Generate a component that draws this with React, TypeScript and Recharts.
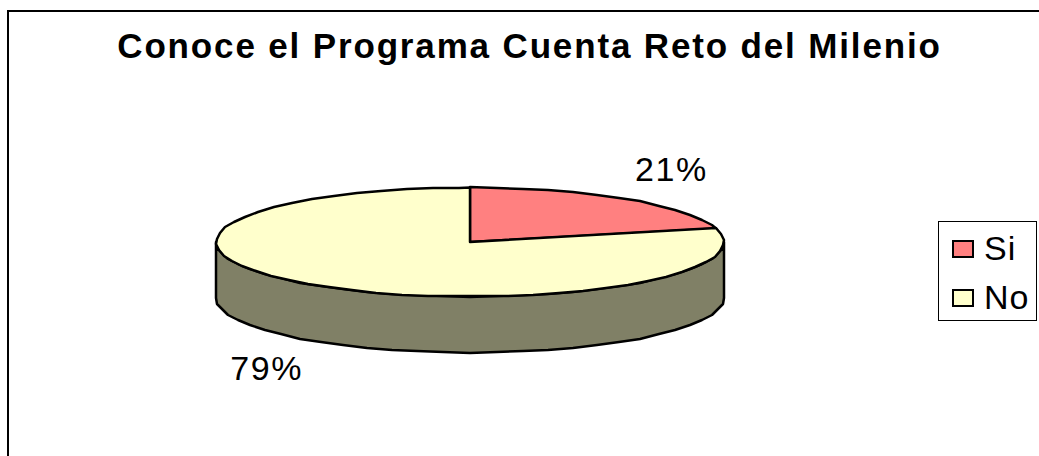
import { PieChart, Pie, Legend } from "recharts";

const categories = ["Si", "No"];
const values = [21, 79];
const colors = ["#FF8080", "#FFFFCC"];
const sideColors = ["#804040", "#808066"];
const title = "Conoce el Programa Cuenta Reto del Milenio";

const chartData = categories.map((name, i) => ({
  name,
  value: values[i],
  fill: colors[i],
  side: sideColors[i],
}));

// the pie is flattened by hand, recharts only knows circles
const SQUASH = 0.2146;
const DEPTH = 56;
const STEP = 6;
const FONT = "'Liberation Sans', Arial, sans-serif";

function point(cx: number, cy: number, r: number, angle: number) {
  const rad = (angle * Math.PI) / 180;
  return { x: cx + r * Math.cos(rad), y: cy - r * SQUASH * Math.sin(rad) };
}

// the edge of the original is a coarse polygon, not a clean arc
function edge(cx: number, cy: number, r: number, from: number, to: number, dy = 0) {
  const out: string[] = [];
  const dir = to > from ? 1 : -1;
  for (let a = from; dir * (to - a) > 0; a += dir * STEP) {
    const p = point(cx, cy, r, a);
    out.push(`${Math.round(p.x)},${Math.round(p.y) + dy}`);
  }
  const end = point(cx, cy, r, to);
  out.push(`${end.x},${end.y + dy}`);
  return out.join(" L");
}

function FlatSector(props: any) {
  const { cx, cy, outerRadius: r, startAngle, endAngle, fill, side } = props;

  // only the front half of the rim shows
  const rimFrom = Math.min(startAngle, 0);
  const rimTo = Math.max(endAngle, -180);
  let rim = null;
  if (rimFrom > rimTo) {
    rim = (
      <path
        d={`M${edge(cx, cy, r, rimFrom, rimTo)} L${edge(cx, cy, r, rimTo, rimFrom, DEPTH)} Z`}
        fill={side}
        stroke="#000"
        strokeWidth={2.5}
        strokeLinejoin="round"
      />
    );
  }

  return (
    <g>
      {rim}
      <path
        d={`M${cx},${cy} L${edge(cx, cy, r, startAngle, endAngle)} Z`}
        fill={fill}
        stroke="#000"
        strokeWidth={2.5}
        strokeLinejoin="round"
      />
    </g>
  );
}

function PercentLabel(props: any) {
  const { cx, cy, outerRadius: r, midAngle, percent } = props;
  const rad = (midAngle * Math.PI) / 180;
  const sin = Math.sin(rad);
  const x = cx - 1 + 1.3 * r * Math.cos(rad);
  const y = cy - 1.5 - 1.65 * r * SQUASH * sin + (sin < 0 ? DEPTH : 0);
  return (
    <text
      x={x}
      y={y}
      textAnchor="middle"
      dominantBaseline="central"
      fontFamily={FONT}
      fontSize={34}
      letterSpacing={1.5}
      fill="#000"
    >
      {`${Math.round(percent * 100)}%`}
    </text>
  );
}

function LegendBox({ payload }: any) {
  return (
    <div
      style={{
        boxSizing: "border-box",
        width: 99,
        height: 100,
        border: "1px solid #000",
        background: "#fff",
        paddingTop: 1,
      }}
    >
      {(payload || []).map((entry: any) => (
        <div
          key={entry.value}
          style={{ display: "flex", alignItems: "center", height: 49, paddingLeft: 13 }}
        >
          <span
            style={{
              boxSizing: "border-box",
              width: 22,
              height: 18,
              border: "2.5px solid #000",
              background: entry.color,
              marginRight: 10,
              marginTop: 2,
            }}
          />
          <span
            style={{
              fontFamily: FONT,
              fontSize: 34,
              letterSpacing: 1,
              color: "#000",
              lineHeight: "40px",
            }}
          >
            {entry.value}
          </span>
        </div>
      ))}
    </div>
  );
}

export default function App() {
  return (
    <div
      style={{
        position: "absolute",
        left: 0,
        top: 0,
        width: 1039,
        height: 456,
        overflow: "hidden",
        background: "#fff",
      }}
    >
      <div
        style={{
          position: "absolute",
          left: 7,
          top: 10,
          width: 1200,
          height: 600,
          border: "2.5px solid #000",
        }}
      />
      <div
        style={{
          position: "absolute",
          left: 0,
          top: 26,
          width: 1059,
          textAlign: "center",
          fontFamily: FONT,
          fontWeight: "bold",
          fontSize: 35,
          letterSpacing: 1.85,
          lineHeight: "40px",
          color: "#000",
          whiteSpace: "nowrap",
        }}
      >
        {title}
      </div>
      <div style={{ position: "absolute", left: 0, top: 0 }}>
        <PieChart width={1039} height={456} margin={{ top: 0, right: 0, bottom: 0, left: 0 }}>
          <Pie
            data={chartData}
            dataKey="value"
            nameKey="name"
            cx={470}
            cy={242}
            outerRadius={254}
            startAngle={90}
            endAngle={-270}
            stroke="#000"
            shape={FlatSector}
            label={PercentLabel}
            labelLine={false}
            isAnimationActive={false}
          />
          <Legend
            content={<LegendBox />}
            itemSorter={null}
            wrapperStyle={{ position: "absolute", left: 938, top: 221, width: 99, height: 100 }}
          />
        </PieChart>
      </div>
    </div>
  );
}
